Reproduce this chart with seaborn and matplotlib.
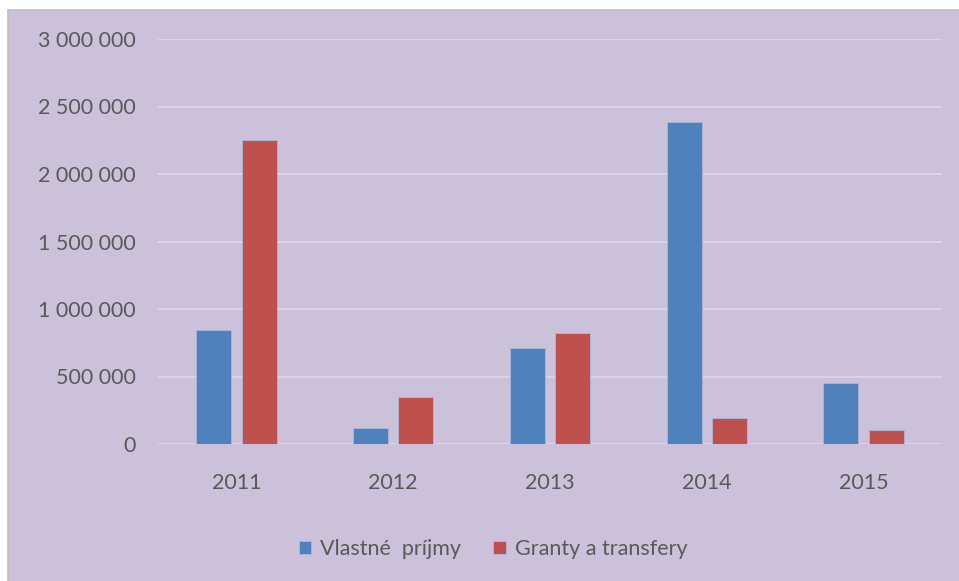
import matplotlib
matplotlib.use("Agg")
from matplotlib import pyplot as plt
from matplotlib.patches import Rectangle
from matplotlib.ticker import FuncFormatter
import pandas as pd
import seaborn as sns

years = ["2011", "2012", "2013", "2014", "2015"]
vlastne = [845000, 120000, 710000, 2385000, 455000]
granty = [2250000, 350000, 825000, 190000, 105000]
series_names = ["Vlastné  príjmy", "Granty a transfery"]
colors = ["#4F81BD", "#C0504D"]

df = pd.DataFrame({
    "rok": years * 2,
    "hodnota": vlastne + granty,
    "typ": [series_names[0]] * len(years) + [series_names[1]] * len(years),
})

sns.set_theme(style="white")
plt.rcParams["font.family"] = ["Lato", "DejaVu Sans"]
text_color = "#595959"
bg = "#CCC1DA"

fig = plt.figure(figsize=(9.59, 5.81), dpi=100, facecolor="white")
# chart area frame, kept behind the axes
fig.patches.append(Rectangle((8 / 959, -0.01), 1.0, 1 - 10 / 581 + 0.01,
                             transform=fig.transFigure, facecolor=bg,
                             edgecolor="#BFBFBF", linewidth=1.2, zorder=-10))

ax = fig.add_axes([158 / 959, 1 - 444 / 581, 784 / 959, 405 / 581])
ax.set_facecolor("none")

sns.barplot(data=df, x="rok", y="hodnota", hue="typ", palette=colors,
            saturation=1, width=0.58, gap=0.23, ax=ax, zorder=3,
            edgecolor="#A9B8DA", linewidth=0.6)

ax.set_ylim(0, 3000000)
ax.set_xlim(-0.5, 4.5)
ax.set_yticks(range(0, 3000001, 500000))
ax.yaxis.set_major_formatter(FuncFormatter(lambda v, p: f"{v:,.0f}".replace(",", " ")))
ax.grid(axis="y", color="#DCD6E4", linewidth=1.3, zorder=0)
ax.grid(axis="x", visible=False)
ax.set_axisbelow(True)
for s in ax.spines.values():
    s.set_visible(False)
ax.tick_params(axis="both", length=0, labelsize=15.5, colors=text_color)
ax.tick_params(axis="y", pad=16)
ax.tick_params(axis="x", pad=21)
ax.set_xlabel("")
ax.set_ylabel("")

handles, labels = ax.get_legend_handles_labels()
ax.legend(handles, labels, loc="center", bbox_to_anchor=(493 / 959, 1 - 549 / 581),
          bbox_transform=fig.transFigure, ncol=2, frameon=False,
          fontsize=15.5, labelcolor=text_color, handlelength=0.6,
          handleheight=0.6, handletextpad=0.4, columnspacing=1.5)

fig.savefig("out.png", dpi=100, facecolor="white")
